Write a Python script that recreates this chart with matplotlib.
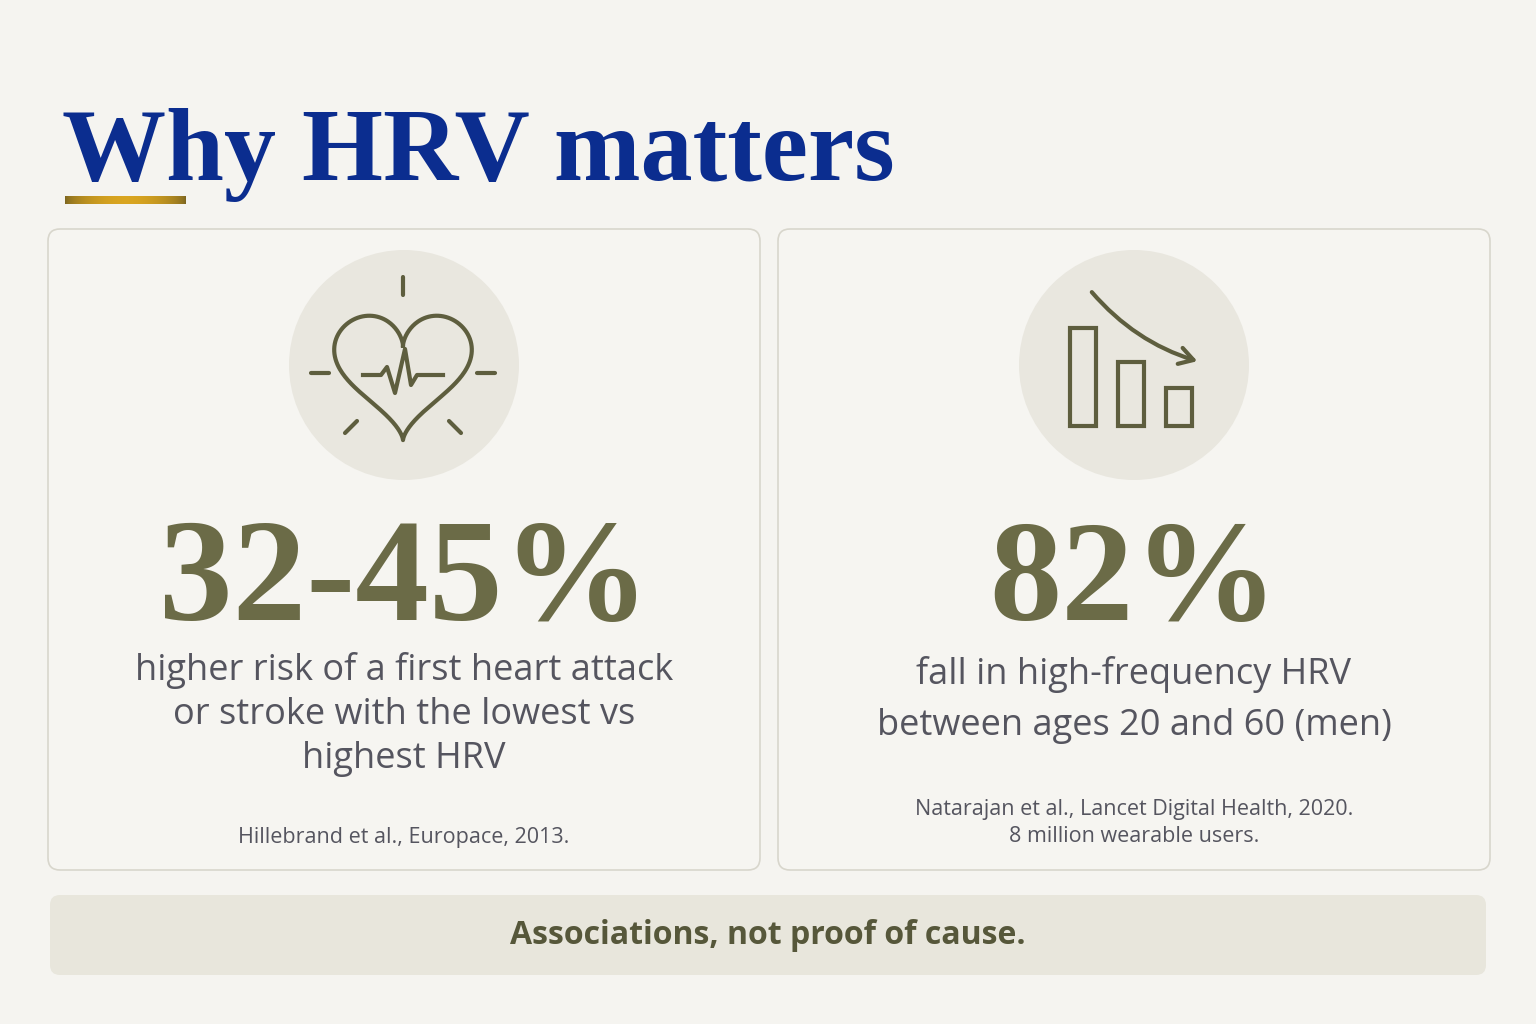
import matplotlib
matplotlib.use('Agg')
import matplotlib.pyplot as plt
import numpy as np
from matplotlib.patches import FancyBboxPatch, Circle, Rectangle, FancyArrowPatch

title = "Why HRV matters"
stats = ["32-45%", "82%"]
descs = ["higher risk of a first heart attack\nor stroke with the lowest vs\nhighest HRV",
         "fall in high-frequency HRV\nbetween ages 20 and 60 (men)"]
cites = ["Hillebrand et al., Europace, 2013.",
         "Natarajan et al., Lancet Digital Health, 2020.\n8 million wearable users."]
note = "Associations, not proof of cause."

BG = '#f5f4f0'
OLIVE = '#6b6b47'
ICON = '#5e5e3e'
GRAY = '#55555f'

fig = plt.figure(figsize=(15.36, 10.24), dpi=100, facecolor=BG)
ax = fig.add_axes([0, 0, 1, 1])
ax.set_xlim(0, 1536)
ax.set_ylim(1024, 0)
ax.axis('off')

ax.text(62, 180, title, fontsize=75, fontweight='bold', family='Liberation Serif',
        color='#0b2d8f', va='baseline')
# gold underline
grad = np.linspace(0, 1, 200).reshape(1, -1)
ax.imshow(np.sin(grad * np.pi) ** 0.6, cmap=matplotlib.colors.LinearSegmentedColormap.from_list(
    'g', ['#7a6420', '#d9a520']), extent=(65, 186, 204, 196), aspect='auto', zorder=3)

centers = [404, 1134]
sizes = [106, 104]
for i, cx in enumerate(centers):
    x0 = cx - 356
    ax.add_patch(FancyBboxPatch((x0, 229), 712, 641, boxstyle='round,pad=0,rounding_size=12',
                                fc='#f6f5f1', ec='#d8d6cc', lw=1.2))
    ax.add_patch(Circle((cx, 365), 115, fc='#e9e7df', ec='none'))
    ax.text(cx, 620, stats[i], fontsize=sizes[i], fontweight='bold', family='Liberation Serif',
            color=OLIVE, ha='center', va='baseline')
    ax.text(cx, 652 if i == 0 else 656, descs[i], fontsize=26, color=GRAY, ha='center', va='top',
            family='Open Sans', linespacing=1.3 if i == 0 else 1.55)
    ax.text(cx, 843 if i == 0 else 847, cites[i], fontsize=15.5, color=GRAY, ha='center',
            va='baseline' if i == 0 else 'bottom', family='Open Sans', linespacing=1.4)

# heart icon
cx, cy = 403, 375
t = np.linspace(0, 2 * np.pi, 400)
hx = 16 * np.sin(t) ** 3
hy = 13 * np.cos(t) - 5 * np.cos(2 * t) - 2 * np.cos(3 * t) - np.cos(4 * t)
ax.plot(cx + hx * 4.3, cy - 8 - hy * 4.3, color=ICON, lw=3)
px = [-40, -22, -16, -8, 2, 8, 14, 40]
py = [0, 0, -8, 18, -26, 10, 0, 0]
ax.plot([cx + p for p in px], [cy + p for p in py], color=ICON, lw=3)
for (a, b, c, d) in [(0, -98, 0, -80), (-92, -2, -74, -2), (74, -2, 92, -2),
                     (-58, 58, -46, 46), (58, 58, 46, 46)]:
    ax.plot([cx + a, cx + c], [cy + b, cy + d], color=ICON, lw=3, solid_capstyle='round')

# bar chart icon
for (bx, by, bh) in [(1070, 328, 98), (1118, 362, 64), (1166, 388, 38)]:
    ax.add_patch(Rectangle((bx, by), 26, bh, fc='none', ec=ICON, lw=3))
ax.add_patch(FancyArrowPatch((1090, 290), (1200, 362), connectionstyle='arc3,rad=0.15',
                             arrowstyle='->,head_length=10,head_width=6', color=ICON, lw=3))

ax.add_patch(FancyBboxPatch((50, 895), 1436, 80, boxstyle='round,pad=0,rounding_size=10',
                            fc='#e8e6dc', ec='none'))
ax.text(768, 936, note, fontsize=23, fontweight='bold', color='#56573a', ha='center',
        va='center', family='Open Sans')

fig.savefig('out.png', dpi=100, facecolor=BG)
